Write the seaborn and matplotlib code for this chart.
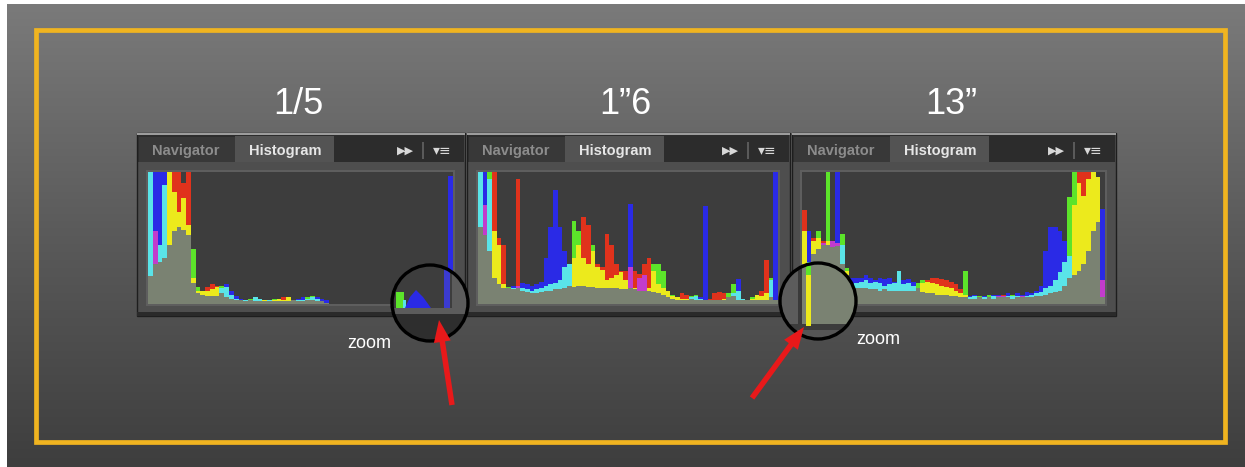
import numpy as np
import seaborn as sns
from matplotlib import pyplot as plt
from matplotlib.colors import LinearSegmentedColormap
from matplotlib.patches import Rectangle, Circle, FancyArrow, Polygon

sns.set_theme(style="dark")
plt.rcParams["font.family"] = ["Liberation Sans", "DejaVu Sans"]

W, H = 1245, 467

titles = ["1/5", "1\u201d6", "13\u201d"]
tab_names = ["Navigator", "Histogram"]
lens_text = "zoom"

# RGB channel histograms, 64 bins each, height in % of the panel
red_15 = [21, 55, 32, 35, 100, 100, 100, 92, 100, 20,
          10, 10, 13, 15, 14, 8, 5, 4, 3, 3,
          2, 3, 2, 2, 3, 2, 3, 4, 5, 5,
          3, 2, 2, 3, 3, 2, 2, 1] + [0] * 26
green_15 = [100, 30, 45, 90, 100, 85, 70, 80, 60, 42,
            13, 10, 10, 11, 13, 14, 13, 7, 4, 3,
            3, 4, 5, 4, 3, 3, 4, 4, 3, 5,
            3, 3, 3, 5, 6, 4, 2, 1] + [0] * 26
blue_15 = [100, 100, 100, 100, 45, 55, 58, 56, 52, 16,
           8, 7, 6, 6, 6, 12, 15, 10, 6, 4,
           3, 3, 5, 4, 2, 3, 2, 2, 2, 2,
           3, 4, 5, 4, 5, 5, 4, 3] + [0] * 25 + [97]

red_16 = [58, 75, 40, 100, 50, 45, 12, 11, 95, 10,
          9, 8, 8, 9, 10, 10, 11, 11, 12, 14,
          35, 45, 66, 60, 40, 30, 28, 53, 45, 30,
          25, 25, 28, 25, 23, 30, 35, 25, 15, 12,
          10, 6, 5, 8, 7, 4, 3, 3, 3, 4,
          8, 9, 8, 5, 6, 3, 3, 3, 4, 7,
          10, 33, 5, 3]
green_16 = [100, 52, 100, 55, 45, 15, 13, 12, 12, 12,
            11, 10, 11, 12, 14, 15, 16, 18, 28, 30,
            63, 55, 35, 30, 45, 28, 26, 18, 20, 22,
            24, 18, 12, 12, 10, 10, 12, 30, 30, 25,
            10, 7, 5, 4, 4, 6, 7, 4, 3, 3,
            3, 3, 4, 8, 15, 10, 4, 3, 5, 7,
            6, 8, 20, 3]
blue_16 = [100, 100, 95, 20, 15, 12, 12, 14, 14, 16,
           15, 14, 15, 17, 35, 58, 86, 58, 40, 30,
           13, 14, 14, 13, 13, 12, 12, 12, 12, 12,
           11, 11, 76, 11, 20, 22, 10, 9, 8, 7,
           5, 4, 3, 3, 3, 5, 6, 5, 74, 3,
           3, 3, 3, 5, 8, 19, 4, 3, 3, 3,
           3, 3, 18, 100]

red_13 = [71, 30, 50, 50, 48, 48, 48, 46, 30, 25,
          15, 12, 12, 12, 11, 11, 10, 11, 10, 10,
          10, 10, 10, 10, 12, 16, 18, 20, 20, 19,
          18, 17, 15, 11, 7, 4, 4, 5, 4, 5,
          4, 6, 7, 5, 4, 5, 6, 5, 5, 6,
          6, 7, 8, 9, 10, 14, 20, 75, 100, 100,
          100, 100, 96, 18]
green_13 = [55, 32, 48, 55, 45, 100, 43, 44, 53, 27,
            14, 16, 17, 18, 16, 17, 16, 14, 15, 16,
            25, 15, 16, 14, 16, 18, 17, 16, 15, 14,
            13, 12, 10, 8, 25, 5, 6, 6, 5, 7,
            6, 5, 5, 6, 7, 6, 5, 6, 7, 8,
            9, 12, 14, 18, 24, 32, 81, 100, 92, 82,
            95, 100, 96, 5]
blue_13 = [30, 55, 38, 42, 46, 45, 48, 100, 45, 22,
           20, 20, 20, 22, 20, 18, 20, 19, 20, 17,
           25, 18, 19, 17, 12, 9, 8, 8, 7, 7,
           7, 6, 6, 5, 5, 6, 7, 5, 6, 5,
           7, 7, 6, 8, 6, 8, 7, 9, 8, 10,
           14, 40, 58, 58, 55, 48, 36, 22, 25, 30,
           40, 55, 62, 72]

channels = [(red_15, green_15, blue_15),
            (red_16, green_16, blue_16),
            (red_13, green_13, blue_13)]

# panel geometry in pixels: (left, right, hist_left, hist_right)
panels = [(137, 465, 148, 453), (467, 790, 478, 778), (792, 1116, 802, 1105)]
PANEL_TOP, PANEL_BOTTOM = 133, 316
HIST_TOP, HIST_BOTTOM = 172, 304

COLORS = {"r": "#e0321c", "g": "#5ce42a", "b": "#2a2ae6",
          "rg": "#ecea1c", "gb": "#5ae4e8", "rb": "#c23ccc"}
GRAY = "#7a8272"
HIST_BG = "#3d3d3d"


def split_layers(r, g, b):
    keys = "rgb"
    top_h, mid_h, low_h, top_c, mid_c = [], [], [], [], []
    for vals in zip(r, g, b):
        hi, md, lo = sorted(range(3), key=lambda k: -vals[k])
        top_h.append(vals[hi])
        mid_h.append(vals[md])
        low_h.append(vals[lo])
        top_c.append(COLORS[keys[hi]])
        pair = "".join(sorted(keys[hi] + keys[md], key=keys.index))
        mid_c.append(COLORS[pair])
    return top_h, mid_h, low_h, top_c, mid_c


def draw_hist(ax, r, g, b):
    bins = np.arange(len(r))
    top_h, mid_h, low_h, top_c, mid_c = split_layers(r, g, b)
    for heights, cols in ((top_h, top_c), (mid_h, mid_c), (low_h, [GRAY] * len(r))):
        sns.barplot(x=bins, y=heights, hue=bins, palette=dict(zip(bins, cols)),
                    width=1, saturation=1, linewidth=0, errorbar=None,
                    legend=False, ax=ax, antialiased=False)
    ax.set_xlim(-0.5, len(r) - 0.5)
    ax.set_ylim(0, 100)
    ax.set(xticks=[], yticks=[], xlabel="", ylabel="")
    ax.set_facecolor(HIST_BG)
    for s in ax.spines.values():
        s.set_visible(False)


def px_axes(x0, y0, x1, y1):
    return fig.add_axes([x0 / W, 1 - y1 / H, (x1 - x0) / W, (y1 - y0) / H])


fig = plt.figure(figsize=(W / 100, H / 100), dpi=100)
fig.patch.set_facecolor("white")

# background with gradient and yellow frame
bg = fig.add_axes([0, 0, 1, 1])
grad = np.linspace(0, 1, 256).reshape(-1, 1)
cmap = LinearSegmentedColormap.from_list("bg", ["#7a7a7a", "#5a5a5a", "#3e3e3e"])
bg.imshow(grad, cmap=cmap, extent=(7, W, H, 4), aspect="auto", zorder=0)
bg.set_xlim(0, W)
bg.set_ylim(H, 0)
bg.axis("off")
bg.add_patch(Rectangle((36, 30), 1189, 412, fill=False, ec="#f0b420", lw=3.4, zorder=2))

for i, (left, right, hx0, hx1) in enumerate(panels):
    w = right - left
    bg.add_patch(Rectangle((left, PANEL_TOP), w, PANEL_BOTTOM - PANEL_TOP,
                           fc="#4e4e4e", ec="#1e1e1e", lw=1, zorder=3))
    bg.add_patch(Rectangle((left, PANEL_TOP), w, 2, fc="#9c9c9c", lw=0, zorder=4))
    bg.add_patch(Rectangle((left + 1, 135), w - 2, 27, fc="#2c2c2c", lw=0, zorder=4))
    bg.add_patch(Rectangle((left + 2, 137), 96, 25, fc="#383838", lw=0, zorder=5))
    bg.add_patch(Rectangle((left + 98, 136), 99, 26, fc="#535353", lw=0, zorder=5))
    bg.add_patch(Rectangle((hx0 - 2, HIST_TOP - 2), hx1 - hx0 + 4,
                           HIST_BOTTOM - HIST_TOP + 4, fc="#5e5e5e", lw=0, zorder=4))
    bg.add_patch(Rectangle((left, 312), w, 4, fc="#2a2a2a", lw=0, zorder=4))
    bg.text(left + 49, 151, tab_names[0], color="#8c8c8c", fontsize=10.5,
            fontweight="bold", ha="center", va="center", zorder=6)
    bg.text(left + 148, 151, tab_names[1], color="#e6e6e6", fontsize=10.5,
            fontweight="bold", ha="center", va="center", zorder=6)
    bg.text(right - 60, 151, "\u25b6\u25b6", color="#d8d8d8", fontsize=8,
            ha="center", va="center", zorder=6, family="DejaVu Sans")
    bg.add_patch(Rectangle((right - 43, 142), 1.5, 17, fc="#5a5a5a", lw=0, zorder=6))
    bg.text(right - 23, 151, "\u25be\u2261", color="#d8d8d8", fontsize=10,
            ha="center", va="center", zorder=6, family="DejaVu Sans")
    bg.text((left + right) / 2 - 3, 114, titles[i], color="white", fontsize=26,
            ha="center", va="baseline", zorder=6)

    ax = px_axes(hx0, HIST_TOP, hx1, HIST_BOTTOM)
    draw_hist(ax, *channels[i])

# overlay: zoom lenses, arrows, labels
ov = fig.add_axes([0, 0, 1, 1])
ov.set_xlim(0, W)
ov.set_ylim(H, 0)
ov.axis("off")


def lens(cx, cy, r, parts):
    clip = Circle((cx, cy), r, transform=ov.transData)
    for p in parts:
        ov.add_patch(p)
        p.set_clip_path(clip)
    ov.add_patch(Circle((cx, cy), r, fill=False, ec="black", lw=2.4, zorder=8))


lens(430, 303, 38, [
    Rectangle((388, 262), 64, 46, fc=HIST_BG, lw=0, zorder=6),
    Rectangle((452, 262), 20, 52, fc="#5c5c5c", lw=0, zorder=6),
    Rectangle((388, 308), 84, 6, fc="#5c5c5c", lw=0, zorder=6),
    Rectangle((388, 314), 84, 32, fc="#2e2e2e", lw=0, zorder=6),
    Rectangle((396, 292), 8, 16, fc=COLORS["g"], lw=0, zorder=7),
    Rectangle((403, 300), 3, 8, fc=COLORS["gb"], lw=0, zorder=7),
    Polygon([(405, 308), (410, 297), (416, 290), (423, 297), (431, 308)],
            closed=True, fc=COLORS["b"], lw=0, zorder=7),
    Rectangle((444, 262), 6, 46, fc="#3b3bd0", lw=0, zorder=7),
])

lens(818, 301, 38, [
    Rectangle((778, 262), 80, 80, fc=GRAY, lw=0, zorder=6),
    Rectangle((778, 262), 22, 80, fc="#5c5c5c", lw=0, zorder=6),
    Rectangle((798, 262), 4, 64, fc="#3a3a3a", lw=0, zorder=6),
    Rectangle((778, 324), 80, 6, fc="#3c3c3c", lw=0, zorder=6),
    Rectangle((778, 330), 80, 14, fc="#555555", lw=0, zorder=6),
    Rectangle((806, 266), 5, 60, fc=COLORS["rg"], lw=0, zorder=7),
    Rectangle((806, 266), 5, 9, fc=COLORS["g"], lw=0, zorder=7),
])

for (x0, y0), (x1, y1) in [((452, 405), (439, 320)), ((752, 398), (804, 327))]:
    ov.add_patch(FancyArrow(x0, y0, x1 - x0, y1 - y0, width=5.5, head_width=17,
                            head_length=22, length_includes_head=True,
                            color="#e8191a", lw=0, zorder=9))

ov.text(369, 344, lens_text, color="white", fontsize=13, ha="center", va="center")
ov.text(878, 339, lens_text, color="white", fontsize=13, ha="center", va="center")

fig.savefig("out.png", dpi=100)
